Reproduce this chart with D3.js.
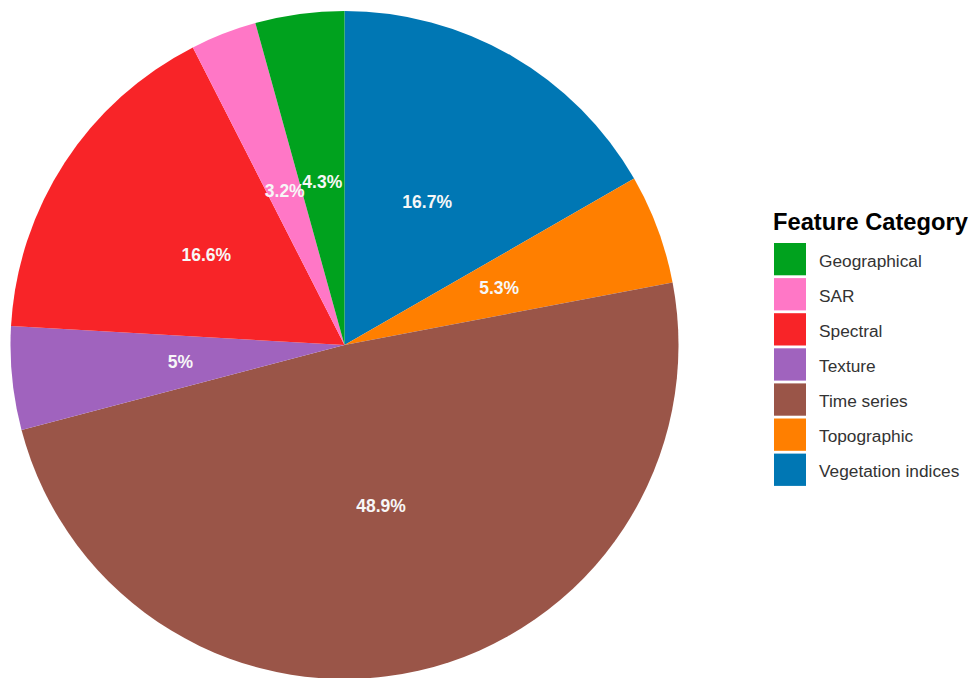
<!DOCTYPE html>
<html>
<head>
<meta charset="utf-8">
<script src="https://cdn.jsdelivr.net/npm/d3@7"></script>
<style>
  html, body { margin: 0; padding: 0; background: #ffffff; }
  svg { display: block; }
</style>
</head>
<body>
<svg id="chart" width="973" height="678"></svg>
<script>
// Share of features per category (%), clockwise from 12 o'clock
const categories = ["Vegetation indices", "Topographic", "Time series", "Texture", "Spectral", "SAR", "Geographical"];
const shares = [16.7, 5.3, 48.9, 5, 16.6, 3.2, 4.3];
const colors = ["#0077B4", "#FF7F00", "#9A5548", "#A063BE", "#F82428", "#FF77C6", "#00A21E"];
// Legend lists the categories alphabetically
const legendOrder = ["Geographical", "SAR", "Spectral", "Texture", "Time series", "Topographic", "Vegetation indices"];

const svg = d3.select("#chart");
const cx = 344.5, cy = 345, radius = 334;

const color = d3.scaleOrdinal().domain(categories).range(colors);
const data = categories.map((c, i) => ({ category: c, value: shares[i] }));

const pie = d3.pie().value(d => d.value).sort(null);
const arc = d3.arc().innerRadius(0).outerRadius(radius);
const labelArc = d3.arc().innerRadius(radius * 0.494).outerRadius(radius * 0.494);

const g = svg.append("g").attr("transform", `translate(${cx},${cy})`);
const arcs = pie(data);

g.selectAll("path.slice")
  .data(arcs)
  .join("path")
  .attr("class", "slice")
  .attr("d", arc)
  .attr("fill", d => color(d.data.category));

g.selectAll("text.pct")
  .data(arcs)
  .join("text")
  .attr("class", "pct")
  .attr("transform", d => `translate(${labelArc.centroid(d)})`)
  .attr("text-anchor", "middle")
  .attr("dominant-baseline", "central")
  .attr("font-family", "Liberation Sans, Arial, sans-serif")
  .attr("font-weight", "bold")
  .attr("font-size", 17.5)
  .attr("fill", "#F7F7F7")
  .text(d => `${d.data.value}%`);

// Legend
const legend = svg.append("g").attr("transform", "translate(774,0)");
legend.append("text")
  .attr("x", -1)
  .attr("y", 230)
  .attr("font-family", "Liberation Sans, Arial, sans-serif")
  .attr("font-weight", "bold")
  .attr("font-size", 23.7)
  .attr("fill", "#000000")
  .text("Feature Category");

const rowY = d3.scaleBand().domain(legendOrder).range([243, 243 + 34.7 * legendOrder.length]).paddingInner(0.08).paddingOuter(0);

const rows = legend.selectAll("g.row")
  .data(legendOrder)
  .join("g")
  .attr("class", "row")
  .attr("transform", d => `translate(0,${rowY(d)})`);

rows.append("rect")
  .attr("width", 32)
  .attr("height", rowY.bandwidth())
  .attr("fill", d => color(d));

rows.append("text")
  .attr("x", 45)
  .attr("y", rowY.bandwidth() / 2 + 1.5)
  .attr("dominant-baseline", "central")
  .attr("font-family", "Liberation Sans, Arial, sans-serif")
  .attr("font-size", 17.3)
  .attr("fill", "#333333")
  .text(d => d);
</script>
</body>
</html>
